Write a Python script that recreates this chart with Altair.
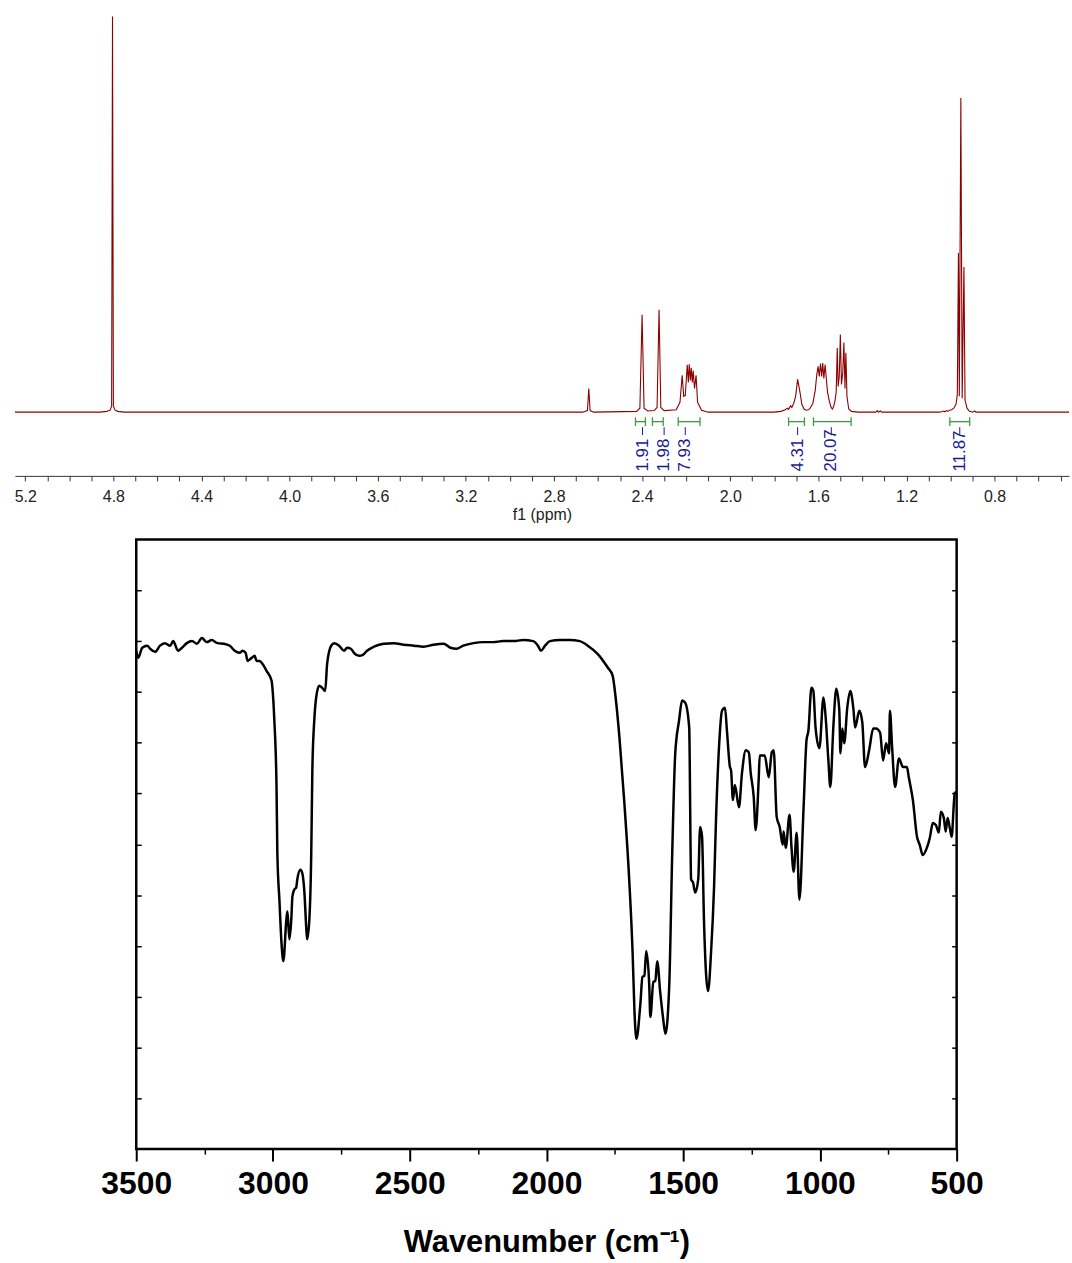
import altair as alt
import pandas as pd

# ---------------- 1H NMR spectrum (top panel) ----------------
nmr_ppm = [5.247, 4.86, 4.83, 4.815, 4.808, 4.804, 4.800, 4.792, 4.78, 4.75,
           2.67, 2.648, 2.642, 2.636, 2.62,
           2.425, 2.41, 2.400, 2.391, 2.375,
           2.345, 2.332, 2.323, 2.315, 2.30,
           2.245, 2.228, 2.218, 2.211, 2.204, 2.195, 2.190, 2.186, 2.181, 2.177,
           2.172, 2.168, 2.162, 2.155, 2.148, 2.13, 2.10,
           1.80, 1.77, 1.75, 1.742, 1.735, 1.726, 1.72, 1.712, 1.703, 1.694,
           1.688, 1.682, 1.675, 1.665, 1.655, 1.645, 1.637, 1.625, 1.614, 1.607,
           1.601, 1.596, 1.590, 1.585, 1.580, 1.575, 1.569, 1.563, 1.558, 1.550,
           1.542, 1.536, 1.530, 1.524, 1.519, 1.514, 1.510, 1.505, 1.500, 1.495,
           1.489, 1.484, 1.479, 1.475, 1.470, 1.462, 1.45, 1.42,
           1.34, 1.332, 1.328, 1.318, 1.312,
           1.05, 1.03, 1.025, 1.018, 1.012, 1.005, 0.995, 0.985, 0.975, 0.969,
           0.964, 0.960, 0.953, 0.947, 0.939, 0.934, 0.925, 0.915, 0.90, 0.89,
           0.885, 0.462]
nmr_intensity = [0, 0, 0.2, 0.5, 1.5, 100, 1.5, 0.5, 0.2, 0,
                 0, 0.4, 6.0, 0.4, 0,
                 0.2, 1.0, 24.6, 1.0, 0.3,
                 0.4, 1.2, 25.9, 1.2, 0.4,
                 0.6, 2.5, 9.3, 4.0, 4.2, 12.0, 7.5, 12.1, 8.0, 11.2,
                 7.5, 10.5, 6.0, 9.3, 2.5, 0.5, 0,
                 0, 0.2, 0.6, 1.0, 0.7, 1.6, 1.2, 2.2, 4.0, 8.3,
                 6.5, 4.6, 2.0, 0.8, 0.5, 0.6, 1.0, 2.2, 5.5, 9.5,
                 11.6, 9.0, 12.3, 9.0, 12.4, 8.5, 12.0, 8.0, 5.0, 2.8,
                 1.2, 0.8, 1.5, 3.0, 5.0, 16.2, 6.5, 9.0, 19.6, 7.0,
                 10.0, 17.6, 6.0, 15.0, 4.0, 0.8, 0.2, 0,
                 0, 0.4, 0, 0.3, 0,
                 0, 0.3, 0.1, 0.4, 0.2, 0.5, 0.6, 1.0, 2.0, 4.5,
                 40.2, 4.0, 79.4, 3.5, 36.7, 3.0, 1.0, 0.3, 0, 0.3,
                 0, 0]

integ_start = [2.430, 2.353, 2.236, 1.735, 1.622, 1.003]
integ_end = [2.385, 2.304, 2.137, 1.663, 1.451, 0.913]
integ_label_ppm = [2.398, 2.300, 2.204, 1.694, 1.541, 0.958]
integ_values = ["1.91", "1.98", "7.93", "4.31", "20.07", "11.87"]

nmr_tick_values = [round(5.2 - 0.1 * i, 1) for i in range(48)]

# ---------------- IR spectrum (bottom panel) ----------------
ir_wavenumber = [3500, 3493, 3478, 3460, 3449, 3431, 3413, 3395, 3376, 3365,
                 3347, 3333, 3315, 3296, 3278, 3260, 3242, 3224, 3202, 3180,
                 3158, 3140, 3122, 3111, 3100, 3093, 3078, 3067, 3060, 3049,
                 3038, 3024, 3005, 3002, 2995, 2987, 2984, 2976, 2969, 2962,
                 2951, 2947, 2940, 2933, 2929, 2922, 2915, 2911, 2900, 2893,
                 2885, 2878, 2875, 2867, 2860, 2856, 2849, 2842, 2831, 2820,
                 2809, 2802, 2787, 2776, 2758, 2740, 2729, 2715, 2704, 2685,
                 2671, 2656, 2631, 2595, 2558, 2522, 2485, 2449, 2413, 2376,
                 2351, 2329, 2304, 2267, 2231, 2195, 2158, 2122, 2085, 2049,
                 2031, 2020, 2005, 1987, 1951, 1915, 1878, 1849, 1813, 1776,
                 1758, 1747, 1733, 1715, 1696, 1685, 1678, 1671, 1656, 1649,
                 1642, 1635, 1624, 1620, 1609, 1602, 1595, 1584, 1573, 1565,
                 1551, 1540, 1529, 1515, 1504, 1493, 1478, 1471, 1464, 1456,
                 1445, 1438, 1431, 1424, 1409, 1398, 1387, 1380, 1369, 1358,
                 1347, 1340, 1329, 1325, 1318, 1311, 1296, 1285, 1271, 1260,
                 1253, 1242, 1235, 1224, 1220, 1202, 1187, 1176, 1169, 1158,
                 1147, 1136, 1133, 1125, 1111, 1104, 1096, 1085, 1075, 1060,
                 1049, 1042, 1031, 1024, 1016, 1002, 987, 980, 969, 962,
                 951, 940, 929, 925, 918, 911, 900, 889, 878, 871,
                 856, 845, 835, 820, 805, 795, 780, 769, 758, 747,
                 744, 736, 725, 711, 696, 682, 675, 660, 645, 635,
                 624, 609, 598, 587, 576, 565, 558, 547, 540, 533,
                 525, 518, 511, 507, 500]
ir_transmittance = [98.1, 96.7, 98.7, 99.1, 98.5, 97.9, 99.1, 99.6, 99.1, 100.0,
                    98.1, 98.7, 99.6, 100.0, 99.5, 100.6, 99.8, 100.2, 99.6, 99.5,
                    99.1, 98.1, 97.7, 98.1, 97.7, 96.1, 96.7, 97.1, 96.1, 96.1,
                    95.5, 94.2, 92.2, 90.8, 84.4, 71.3, 58.3, 48.6, 40.7, 37.0,
                    45.2, 46.8, 41.3, 45.2, 49.7, 51.1, 51.5, 53.1, 55.0, 54.4,
                    50.5, 43.3, 41.3, 45.2, 58.3, 74.6, 84.4, 88.9, 91.2, 90.8,
                    90.2, 95.5, 99.1, 99.6, 99.1, 98.1, 98.7, 98.5, 97.7, 97.1,
                    97.3, 98.1, 98.9, 99.5, 99.6, 99.3, 99.1, 98.9, 99.3, 99.5,
                    98.7, 98.5, 99.1, 99.6, 99.8, 99.8, 100.0, 100.0, 100.2, 100.0,
                    99.1, 98.1, 99.1, 100.0, 100.2, 100.2, 100.0, 99.1, 97.5, 94.8,
                    93.2, 88.9, 81.0, 68.1, 51.7, 38.8, 27.0, 21.7, 29.0, 33.9,
                    34.1, 39.0, 32.1, 26.0, 32.9, 33.1, 37.0, 30.9, 25.6, 22.7,
                    32.1, 58.3, 77.9, 84.4, 88.3, 87.9, 83.0, 53.1, 52.5, 50.5,
                    53.1, 63.4, 61.5, 45.2, 31.1, 38.8, 51.7, 64.8, 79.1, 86.3,
                    86.9, 82.4, 75.2, 74.6, 68.7, 71.7, 67.3, 74.0, 78.5, 78.1,
                    74.0, 69.3, 62.8, 72.6, 77.5, 77.5, 73.2, 78.1, 78.5, 65.4,
                    63.4, 59.9, 62.5, 59.3, 65.8, 59.5, 54.6, 62.3, 49.1, 66.8,
                    80.5, 82.4, 90.8, 90.2, 83.0, 78.9, 88.9, 85.7, 76.5, 71.3,
                    83.0, 90.6, 86.3, 77.9, 82.8, 79.9, 86.9, 90.2, 86.9, 83.0,
                    86.3, 84.0, 75.2, 78.5, 82.8, 82.8, 82.0, 76.5, 79.9, 77.9,
                    86.3, 79.1, 71.3, 76.9, 75.2, 75.2, 73.2, 68.7, 61.5, 59.9,
                    57.9, 59.3, 61.3, 64.2, 63.8, 62.3, 66.4, 65.2, 62.5, 65.2,
                    63.2, 61.5, 67.3, 70.1, 70.3]
ir_major_ticks = [3500, 3000, 2500, 2000, 1500, 1000, 500]
ir_minor_ticks = [3250, 2750, 2250, 1750, 1250, 750]
ir_y_ticks = [10, 20, 30, 40, 50, 60, 70, 80, 90, 100, 110]

FONT = "Liberation Sans"
NMR_RED = "#8B0000"
GREEN = "#3a9d3a"
NAVY = "#1a1a96"

# ---------------- NMR chart ----------------
nmr_df = pd.DataFrame({"ppm": nmr_ppm, "intensity": nmr_intensity})
integ_df = pd.DataFrame({"ppm": integ_start, "ppm_end": integ_end,
                         "yb": [-2.4] * 6})
caps_df = pd.DataFrame({"ppm": integ_start + integ_end,
                        "ctop": [-1.3] * 12, "cbot": [-3.5] * 12})
lab_df = pd.DataFrame({"ppm": integ_label_ppm, "label": integ_values,
                       "yt": [-15.0] * 6, "c1": [-3.8] * 6, "c2": [-5.8] * 6})

x_scale = alt.Scale(domain=[0.462, 5.247], reverse=True, nice=False, zero=False)
y_scale = alt.Scale(domain=[-16.1, 100.5], nice=False, zero=False)
x_axis = alt.Axis(values=nmr_tick_values,
                  labelExpr="abs(round(datum.value * 10)) % 4 == 0 ? format(datum.value, '.1f') : ''",
                  labelOverlap=False, labelFlush=False, grid=False,
                  domainColor="#333333", tickColor="#333333", tickSize=5,
                  labelFontSize=16, labelColor="#222222", labelFont=FONT, labelPadding=8,
                  title="f1 (ppm)", titleFontSize=16, titleFontWeight="normal",
                  titleColor="#222222", titleFont=FONT, titlePadding=2)

line = alt.Chart(nmr_df).mark_line(color=NMR_RED, strokeWidth=1.1).encode(
    x=alt.X("ppm:Q", scale=x_scale, axis=x_axis),
    y=alt.Y("intensity:Q", scale=y_scale, axis=None),
)
brackets = alt.Chart(integ_df).mark_rule(color=GREEN, strokeWidth=1.3).encode(
    x=alt.X("ppm:Q", scale=x_scale, axis=x_axis),
    x2="ppm_end:Q",
    y=alt.Y("yb:Q", scale=y_scale, axis=None),
)
caps = alt.Chart(caps_df).mark_rule(color=GREEN, strokeWidth=1.3).encode(
    x=alt.X("ppm:Q", scale=x_scale, axis=x_axis),
    y=alt.Y("ctop:Q", scale=y_scale, axis=None),
    y2="cbot:Q",
)
curves = alt.Chart(lab_df).mark_rule(color=NAVY, strokeWidth=1).encode(
    x=alt.X("ppm:Q", scale=x_scale, axis=x_axis),
    y=alt.Y("c1:Q", scale=y_scale, axis=None),
    y2="c2:Q",
)
labels = alt.Chart(lab_df).mark_text(angle=270, align="left", baseline="middle",
                                     fontSize=17, font=FONT, color=NAVY).encode(
    x=alt.X("ppm:Q", scale=x_scale, axis=x_axis),
    y=alt.Y("yt:Q", scale=y_scale, axis=None),
    text="label:N",
)
nmr = alt.layer(line, brackets, caps, curves, labels).properties(
    width=1060, height=464, view=alt.ViewBackground(stroke="transparent"))

# ---------------- IR chart ----------------
ir_df = pd.DataFrame({"wn": ir_wavenumber, "T": ir_transmittance})
ir_x_scale = alt.Scale(domain=[500, 3500], reverse=True, nice=False, zero=False)
ir_y_scale = alt.Scale(domain=[0, 120], nice=False, zero=False)

ir_main = alt.Chart(ir_df).mark_line(color="black", strokeWidth=2.5,
                                     interpolate="monotone").encode(
    x=alt.X("wn:Q", scale=ir_x_scale,
            axis=alt.Axis(values=ir_major_ticks, format="d", domain=False, grid=False,
                          tickSize=12, tickWidth=2, tickColor="black",
                          labelFontSize=32, labelFontWeight="bold", labelFont=FONT,
                          labelColor="black", labelPadding=8, labelFlush=False,
                          labelOverlap=False,
                          title="Wavenumber (cm\u207b\u00b9)", titleFont=FONT,
                          titleFontSize=31, titleFontWeight="bold", titleColor="black",
                          titlePadding=28)),
    y=alt.Y("T:Q", scale=ir_y_scale,
            axis=alt.Axis(orient="right", offset=-825, values=ir_y_ticks, labels=False,
                          domain=False, grid=False, tickSize=5, tickWidth=1.5,
                          tickColor="black", title=None)),
)
ir_minor = alt.Chart(ir_df).mark_line(opacity=0).encode(
    x=alt.X("wn:Q", scale=ir_x_scale,
            axis=alt.Axis(orient="bottom", values=ir_minor_ticks, labels=False,
                          domain=False, grid=False, tickSize=5, tickWidth=1.5,
                          tickColor="black", title=None)),
    y=alt.Y("T:Q", scale=ir_y_scale,
            axis=alt.Axis(orient="left", offset=-825, values=ir_y_ticks, labels=False,
                          domain=False, grid=False, tickSize=5, tickWidth=1.5,
                          tickColor="black", title=None)),
)
ir = alt.layer(ir_main, ir_minor).resolve_axis(x="independent", y="independent").properties(
    width=825, height=613, view=alt.ViewBackground(stroke="black", strokeWidth=2.5))

spacer = alt.Chart(pd.DataFrame({"s": [0]})).mark_point(opacity=0).encode(
    x=alt.X("s:Q", axis=None), y=alt.Y("s:Q", axis=None)
).properties(width=84, height=20, view=alt.ViewBackground(stroke="transparent"))

bottom = alt.hconcat(spacer, ir, spacing=0)

chart = alt.vconcat(nmr, bottom, spacing=14).properties(
    padding={"left": 12, "top": 10, "right": 0, "bottom": 0},
    background="white",
).configure(font=FONT).configure_view(stroke="transparent")

chart.save("out.html", embed_options={"renderer": "svg", "actions": False})
